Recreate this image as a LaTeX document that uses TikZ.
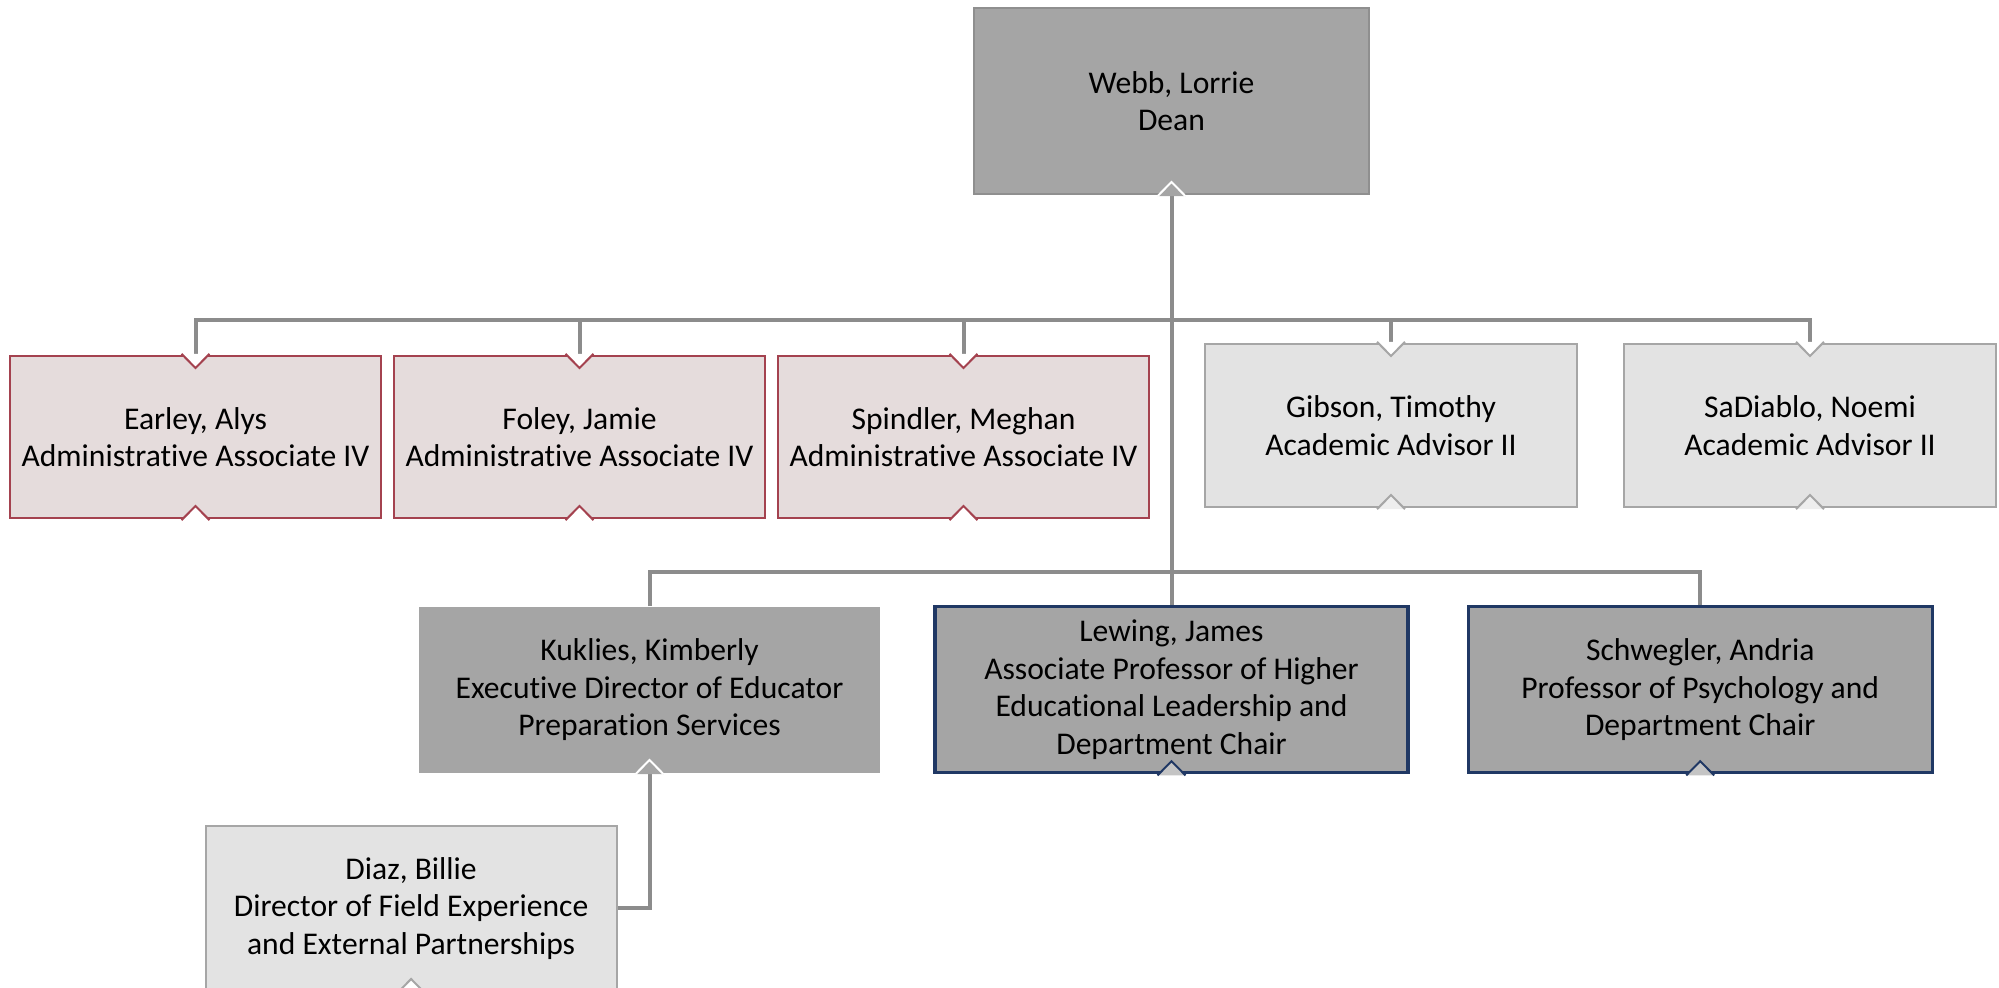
\documentclass[tikz,border=0pt]{standalone}
\usepackage{fontspec}
\setmainfont{Carlito}[Ligatures=NoCommon]
\usepackage{xcolor}
\usepackage{tikz}
\usetikzlibrary{positioning}

\definecolor{boxgray}{HTML}{A5A5A5}
\definecolor{deanline}{HTML}{8F8F8F}
\definecolor{adminfill}{HTML}{E5DCDC}
\definecolor{adminline}{HTML}{A4424F}
\definecolor{lightfill}{HTML}{E3E3E3}
\definecolor{lightline}{HTML}{A6A6A6}
\definecolor{navy}{HTML}{203864}
\definecolor{notchgray}{HTML}{C4C4C4}
\definecolor{connline}{HTML}{8C8C8C}

\newcommand\topnotch[3]{\filldraw[fill=#2, draw=#3, line width=1pt] ([xshift=-7pt,yshift=0.6pt]#1.north) -- ([yshift=-6.5pt]#1.north) -- ([xshift=7pt,yshift=0.6pt]#1.north);}
\newcommand\botnotch[3]{\filldraw[fill=#2, draw=#3, line width=1pt] ([xshift=-7pt,yshift=-0.6pt]#1.south) -- ([yshift=6.5pt]#1.south) -- ([xshift=7pt,yshift=-0.6pt]#1.south);}

\begin{document}
\begin{tikzpicture}[x=0.5pt,y=-0.5pt]
                \tikzstyle{block} = [rectangle, align=center, inner sep=0pt, font=\fontsize{15.8}{18.8}\selectfont]
                \tikzstyle{dark} = [block, fill=boxgray, draw=deanline, line width=1pt]
                \tikzstyle{admin} = [block, fill=adminfill, draw=adminline, line width=1pt, minimum width=185.5pt, minimum height=81pt]
                \tikzstyle{light} = [block, fill=lightfill, draw=lightline, line width=1pt, minimum width=186pt, minimum height=81.5pt]
                \tikzstyle{chair} = [block, fill=boxgray, draw=navy, line width=1.6pt, minimum height=83pt]
                \tikzstyle{conn} = [draw=connline, line width=2pt]

                \useasboundingbox (0,0) rectangle (1999,988);

                \node [dark, minimum width=197.5pt, minimum height=93pt] (webb) at (1171.5,101) {Webb, Lorrie\\Dean};

                \node [admin] (earley) at (195.5,437) {Earley, Alys\\Administrative Associate IV};
                \node [admin, right = 5.5pt of earley] (foley) {Foley, Jamie\\Administrative Associate IV};
                \node [admin, right = 5.5pt of foley] (spindler) {Spindler, Meghan\\Administrative Associate IV};
                \node [light] (gibson) at (1391,425.5) {Gibson, Timothy\\Academic Advisor II};
                \node [light, right = 22.5pt of gibson] (sadiablo) {SaDiablo, Noemi\\Academic Advisor II};

                \node [chair, below = 205pt of webb, minimum width=236.5pt] (lewing) {Lewing, James\\Associate Professor of Higher\\Educational Leadership and\\Department Chair};
                \node [block, fill=boxgray, left = 26.5pt of lewing, minimum width=230.5pt, minimum height=83pt] (kuklies) {Kuklies, Kimberly\\Executive Director of Educator\\Preparation Services};
                \node [chair, right = 28.5pt of lewing, minimum width=232pt] (schwegler) {Schwegler, Andria\\Professor of Psychology and\\Department Chair};
                \node [light, below left = 26pt and -99.5pt of kuklies, minimum width=205.5pt, minimum height=82.5pt] (diaz) {Diaz, Billie\\Director of Field Experience\\and External Partnerships};

                \coordinate (bus1) at (1171.5,320);
                \coordinate (bus2) at (1171.5,572);

                \draw [conn] (webb.south) -- (lewing.north);
                \draw [conn] (earley.north) |- (bus1) -| (sadiablo.north);
                \foreach \n in {foley,spindler,gibson}
                    \draw [conn] (\n.north) |- (bus1);
                \draw [conn] (kuklies.north) |- (bus2) -| (schwegler.north);
                \draw [conn] (kuklies.south) |- (diaz.east);

                % notches where the lines meet the boxes
                \botnotch{webb}{boxgray}{white}
                \foreach \n in {earley,foley,spindler} {\topnotch{\n}{white}{adminline} \botnotch{\n}{white}{adminline}}
                \foreach \n in {gibson,sadiablo} {\topnotch{\n}{white}{lightline} \botnotch{\n}{lightfill!60!white}{lightline}}
                \botnotch{kuklies}{boxgray}{white}
                \botnotch{lewing}{notchgray}{navy}
                \botnotch{schwegler}{notchgray}{navy}
                \botnotch{diaz}{white}{lightline}
\end{tikzpicture}
\end{document}
